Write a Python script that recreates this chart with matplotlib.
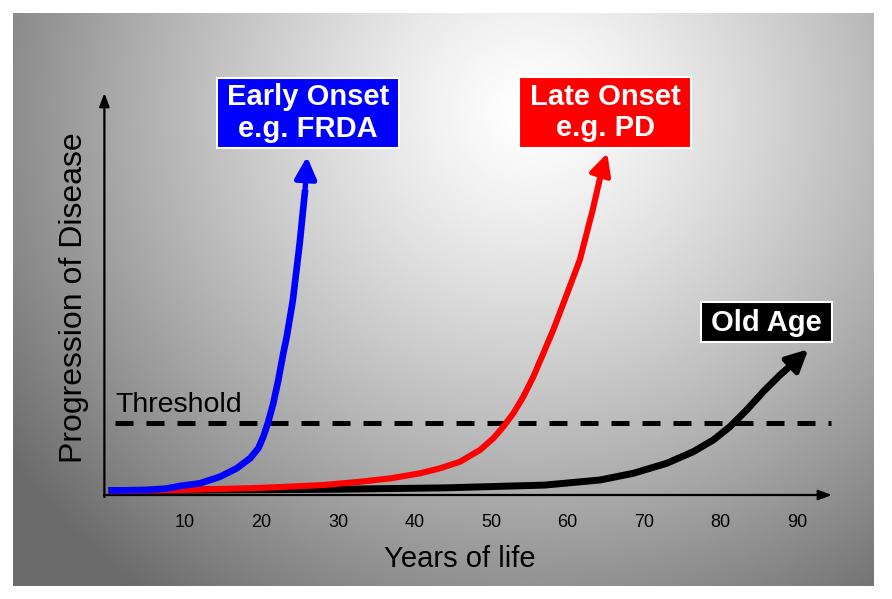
import numpy as np
import matplotlib
matplotlib.use("Agg")
import matplotlib.pyplot as plt
from matplotlib.patches import Rectangle

plt.rcParams['font.family'] = ['Liberation Sans', 'DejaVu Sans']

# ---------------- data ----------------
tick_years = [10, 20, 30, 40, 50, 60, 70, 80, 90]
tick_labels = ["10", "20", "30", "40", "50", "60", "70", "80", "90"]

threshold_level = 1.0

early_years = [0, 5, 7.6, 9.35, 11.96, 14.58, 16.76, 18.50, 19.58, 20.24, 20.89, 21.54,
               22.20, 22.85, 23.3, 24.1, 25.0, 25.7, 25.95]
early_level = [0.02, 0.03, 0.05, 0.087, 0.126, 0.222, 0.343, 0.488, 0.633, 0.802, 1.019, 1.285,
               1.623, 2.01, 2.25, 2.78, 3.61, 4.38, 4.86]

late_years = [0, 10, 20, 28, 33, 37, 40.72, 43.33, 45.95, 48.56, 50.3, 51.61, 52.92, 54.22,
              55.53, 56.84, 58.14, 59.45, 61.6, 63.3, 64.5, 65.2]
late_level = [0.01, 0.03, 0.06, 0.10, 0.15, 0.20, 0.271, 0.343, 0.439, 0.609, 0.778, 0.946, 1.14, 1.38,
              1.67, 2.01, 2.35, 2.73, 3.36, 4.09, 4.67, 4.91]

old_years = [0, 15, 30, 44, 57, 64.25, 68.6, 72.97, 76.44, 79.06, 81.24, 83.42, 85.59, 87.78,
             89.52, 91.48]
old_level = [0.02, 0.03, 0.04, 0.06, 0.10, 0.174, 0.271, 0.416, 0.584, 0.754, 0.947, 1.188, 1.454, 1.696,
             1.865, 2.068]

# ---------------- figure ----------------
W, H = 892, 599
fig = plt.figure(figsize=(W / 100, H / 100), dpi=100)
fig.patch.set_facecolor('white')

# background panel with radial gradient
bg = fig.add_axes([0, 0, 1, 1], zorder=0)
bg.set_xlim(0, W)
bg.set_ylim(H, 0)
bg.axis('off')
px0, px1, py0, py1 = 13, 874, 13, 586
gx = np.linspace(px0, px1, 430)
gy = np.linspace(py0, py1, 290)
GX, GY = np.meshgrid(gx, gy)
cx, cy = 530, 110
d = np.hypot((GX - cx) * 1.0, (GY - cy) * 1.05)
val = 1 - 0.56 * np.clip(d / 620, 0, 1.3) ** 1.25
val = np.clip(val, 0.42, 1.0)
bg.imshow(val, cmap='gray', vmin=0, vmax=1, extent=(px0, px1, py1, py0),
          origin='upper', aspect='auto', interpolation='bilinear', zorder=0)
bg.set_xlim(0, W)
bg.set_ylim(H, 0)

# main axes, pixel box 104..840 x 90..500
L, R, T, B = 104, 840, 90, 500
ax = fig.add_axes([L / W, 1 - B / H, (R - L) / W, (B - T) / H], zorder=1)
ax.patch.set_alpha(0)
x_per_px = 1 / 7.65
xmin = (L - 108.5) * x_per_px
xmax = (R - 108.5) * x_per_px
base_py = 492
unit = 69.0
ymin = (base_py - B) / unit
ymax = (base_py - T) / unit
ax.set_xlim(xmin, xmax)
ax.set_ylim(ymin, ymax)
for s in ax.spines.values():
    s.set_visible(False)
ax.set_yticks([])
ax.set_xticks(tick_years)
ax.set_xticklabels(tick_labels)
ax.tick_params(axis='x', length=0, pad=10, labelsize=13)

# axes arrows
axis_y = (base_py - 495) / unit
ax.annotate('', xy=((832 - 108.5) * x_per_px, axis_y), xytext=(xmin, axis_y),
            arrowprops=dict(arrowstyle='-|>,head_length=0.8,head_width=0.3', lw=1.6,
                            color='black', shrinkA=0, shrinkB=0, mutation_scale=10), zorder=3)
ax.annotate('', xy=(xmin + 0.05, (base_py - 93) / unit), xytext=(xmin + 0.05, axis_y - 0.03),
            arrowprops=dict(arrowstyle='-|>,head_length=0.8,head_width=0.3', lw=1.6,
                            color='black', shrinkA=0, shrinkB=0, mutation_scale=10), zorder=3)

# threshold
ax.axhline(threshold_level, xmin=(115 - L) / (R - L), xmax=(831 - L) / (R - L),
           color='black', lw=3.6, linestyle=(0, (3.6, 2.6)), zorder=2)
ax.text(0.85, threshold_level + 0.16, 'Threshold', fontsize=20.5, ha='left', va='baseline', zorder=2)


def curve(xs, ys, color, lw, z):
    ax.plot(xs[:-1], ys[:-1], color=color, lw=lw, solid_capstyle='butt',
            solid_joinstyle='round', zorder=z)
    ax.annotate('', xy=(xs[-1], ys[-1]), xytext=(xs[-2], ys[-2]),
                arrowprops=dict(arrowstyle='-|>,head_length=1.3,head_width=0.65', lw=lw * 0.8,
                                color=color, shrinkA=0, shrinkB=0, mutation_scale=10),
                zorder=z)


curve(old_years, old_level, 'black', 5.0, 4)
curve(late_years, late_level, '#ff0000', 4.4, 5)
curve(early_years, early_level, '#0000ff', 4.8, 6)

# axis labels
ax.set_xlabel('Years of life', fontsize=21)
ax.xaxis.set_label_coords((460 - L) / (R - L), (B - 567) / (B - T))
ax.xaxis.label.set_verticalalignment('baseline')
ax.set_ylabel('Progression of Disease', fontsize=23)
ax.yaxis.label.set_rotation_mode('anchor')
ax.yaxis.label.set_verticalalignment('baseline')
ax.yaxis.set_label_coords((82 - L) / (R - L), (B - 298) / (B - T))

# label boxes (overlay, pixel coordinates)
ov = fig.add_axes([0, 0, 1, 1], zorder=2)
ov.set_xlim(0, W)
ov.set_ylim(H, 0)
ov.axis('off')


def box(x0, y0, x1, y1, color, lines, baselines):
    ov.add_patch(Rectangle((x0, y0), x1 - x0, y1 - y0, facecolor=color,
                           edgecolor='white', lw=1.5))
    for t, b in zip(lines, baselines):
        ov.text((x0 + x1) / 2, b, t, color='white', fontsize=21, fontweight='bold',
                ha='center', va='baseline')


box(217, 78, 399, 148, '#0000ff', ['Early Onset', 'e.g. FRDA'], [105, 137])
box(519, 77, 691, 148, '#ff0000', ['Late Onset', 'e.g. PD'], [105, 136])
box(701, 302, 832, 342, 'black', ['Old Age'], [331])

fig.savefig('out.png', dpi=100)
